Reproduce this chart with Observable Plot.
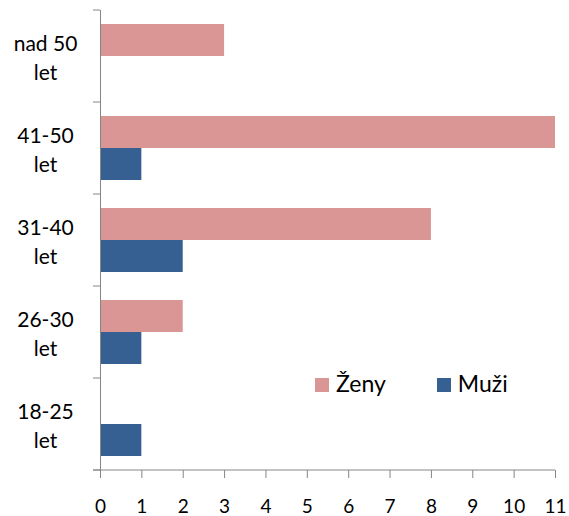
<!DOCTYPE html>
<html><head><meta charset="utf-8">
<script src="https://cdn.jsdelivr.net/npm/d3@7"></script>
<script src="https://cdn.jsdelivr.net/npm/@observablehq/plot@0.6"></script>
<style>
body{margin:0;background:#fff;}
#wrap{position:relative;width:569px;height:516px;font-family:Lato,sans-serif;}
.legend{position:absolute;top:369px;left:315px;display:flex;align-items:center;font:23px Lato,sans-serif;color:#000;}
.legend .item{display:flex;align-items:center;}
.legend .sw{width:14px;height:14px;margin-right:7px;margin-top:3px;}
</style></head>
<body><div id="wrap"></div>
<script>
const categories = ["nad 50 let", "41-50 let", "31-40 let", "26-30 let", "18-25 let"];
const series = ["Ženy", "Muži"];
const zeny = [3, 11, 8, 2, 0];
const muzi = [0, 1, 2, 1, 1];
const xTicks = [0, 1, 2, 3, 4, 5, 6, 7, 8, 9, 10, 11];
const colors = ["#D99694", "#376092"];
const axisColor = "#868686";

const data = categories.flatMap((c, i) => [
  {cat: c, series: series[0], value: zeny[i]},
  {cat: c, series: series[1], value: muzi[i]}
]).filter(d => d.value > 0);

const plot = Plot.plot({
  width: 569, height: 516,
  marginLeft: 100, marginRight: 14, marginTop: 10, marginBottom: 46,
  style: {fontFamily: "Lato, sans-serif", background: "white", color: "#000", overflow: "visible"},
  x: {domain: [0, 11]},
  y: {domain: series, paddingInner: 0, paddingOuter: 0.4375, axis: null},
  fy: {domain: categories, padding: 0, axis: null},
  color: {domain: series, range: colors},
  marks: [
    Plot.barX(data, {x: "value", y: "series", fy: "cat", fill: "series"}),
    Plot.ruleX([0], {stroke: axisColor, strokeWidth: 1}),
    Plot.axisX({ticks: xTicks, tickSize: 8, tickPadding: 21, fontSize: 19, label: null, stroke: axisColor, fill: "#000"}),
    Plot.text(categories, {fy: d => d, text: d => d.replace(" let", "\nlet"), frameAnchor: "left", dx: -55,
      textAnchor: "middle", lineAnchor: "middle", fontSize: 21, lineHeight: 1.35, fill: "#000"})
  ]
});

// category boundary ticks and bottom axis line, placed via the plot's own scales
const sx = plot.scale("x");
const sfy = plot.scale("fy");
const xs = d3.scaleLinear(sx.domain, sx.range);
const fys = d3.scaleBand(sfy.domain, sfy.range).paddingInner(sfy.paddingInner ?? 0).paddingOuter(sfy.paddingOuter ?? 0);
const g = d3.select(plot).append("g").attr("stroke", axisColor).attr("stroke-width", 1);
const x0 = xs(0);
const bounds = categories.map(c => fys(c)).concat([fys(categories[categories.length - 1]) + fys.bandwidth()]);
bounds.forEach(y => {
  g.append("line").attr("x1", x0 - 7).attr("x2", x0).attr("y1", y).attr("y2", y);
});
const yb = bounds[bounds.length - 1];
g.append("line").attr("x1", x0 - 7).attr("x2", xs(11)).attr("y1", yb).attr("y2", yb);

const wrap = document.getElementById("wrap");
wrap.appendChild(plot);

const legend = document.createElement("div");
legend.className = "legend";
series.forEach((s, i) => {
  const it = document.createElement("div");
  it.className = "item";
  it.style.marginRight = i === 0 ? "51px" : "0";
  it.innerHTML = `<span class="sw" style="background:${colors[i]}"></span><span>${s}</span>`;
  legend.appendChild(it);
});
wrap.appendChild(legend);
</script>
</body></html>
